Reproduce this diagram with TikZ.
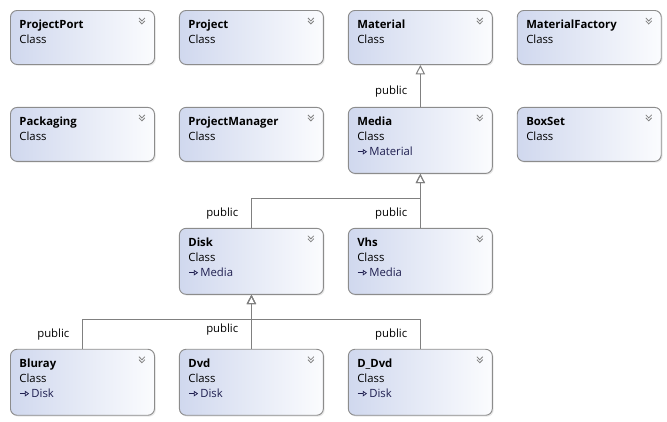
\documentclass[tikz,border=0pt]{standalone}
\usepackage{fontspec}
\setmainfont{Open Sans}
\usetikzlibrary{arrows.meta, positioning, shadows}

\definecolor{clsleft}{HTML}{D0D8EE}
\definecolor{clsright}{HTML}{FBFCFE}
\definecolor{clsborder}{HTML}{8C8C8C}
\definecolor{linkgray}{HTML}{808080}
\definecolor{basetext}{HTML}{1F1F50}

\newcommand{\inharrow}{\tikz[baseline=-0.6ex]\draw[line width=0.55pt, -{Triangle[open, length=3.2pt, width=4.2pt]}] (0,0) -- (7pt,0);}
\newcommand{\clsshort}[1]{\rule{0pt}{13.5pt}\textbf{#1}\\Class\rule[-15.75pt]{0pt}{15.75pt}}
\newcommand{\clsbase}[2]{\rule{0pt}{13.5pt}\textbf{#1}\\Class\\{\color{basetext}\inharrow\,#2}\rule[-13.5pt]{0pt}{13.5pt}}

\tikzset{
    chevron/.style={draw=black!50, line width=0.6pt, sharp corners},
    cls/.style={
        draw=clsborder,
        line width=0.7pt,
        rounded corners=5pt,
        left color=clsleft,
        right color=clsright,
        drop shadow={shadow xshift=1pt, shadow yshift=-1pt, opacity=0.18},
        minimum width=108pt,
        text width=94.5pt,
        inner xsep=6.75pt,
        inner ysep=0pt,
        align=left,
        font=\fontsize{8.5pt}{11.25pt}\selectfont,
        path picture={
            \foreach \dy in {-5.6pt,-7.8pt}
                \draw[chevron] ([shift={(-11.6pt,\dy)}]path picture bounding box.north east)
                    -- ++(2.2pt,-2.3pt) -- ++(2.2pt,2.3pt);
        }
    },
    inh/.style={draw=linkgray, line width=0.75pt, -{Triangle[open, length=7pt, width=7pt]}},
    pub/.style={left=9.5pt, inner sep=0pt, font=\fontsize{8.5pt}{11.25pt}\selectfont}
}

\begin{document}
\begin{tikzpicture}[node distance=31.5pt and 18pt]

\useasboundingbox (0,0) rectangle (500.25pt,-315.75pt);

\node[cls, anchor=north west] (pport) at (7.5pt,-7.5pt) {\clsshort{ProjectPort}};
\node[cls, right=of pport] (project) {\clsshort{Project}};
\node[cls, right=of project] (material) {\clsshort{Material}};
\node[cls, right=of material] (mfactory) {\clsshort{MaterialFactory}};

\node[cls, below=of pport] (packaging) {\clsshort{Packaging}};
\node[cls, below=of project] (pmanager) {\clsshort{ProjectManager}};
\node[cls, below=of material] (media) {\clsbase{Media}{Material}};
\node[cls, below=of mfactory] (boxset) {\clsshort{BoxSet}};

\node[cls, below=40.5pt of media] (vhs) {\clsbase{Vhs}{Media}};
\node[cls, left=of vhs] (disk) {\clsbase{Disk}{Media}};

\node[cls, below=40.5pt of disk] (dvd) {\clsbase{Dvd}{Disk}};
\node[cls, left=of dvd] (bluray) {\clsbase{Bluray}{Disk}};
\node[cls, right=of dvd] (ddvd) {\clsbase{D\_Dvd}{Disk}};

\coordinate[below=18.75pt of media.south] (mfork);
\coordinate[below=18.75pt of disk.south] (dfork);

\draw[inh] (media) -- node[pub, pos=0.36] {public} (material);
\draw[inh] (disk.north) |- node[pub, pos=0.25] {public} (mfork) -- (media.south);
\draw[inh] (vhs) -- node[pub, pos=0.27] {public} (media);
\draw[inh] (bluray.north) |- node[pub, pos=0.25] {public} (dfork) -- (disk.south);
\draw[inh] (dvd) -- node[pub, pos=0.35] {public} (disk);
\draw[inh] (ddvd.north) |- node[pub, pos=0.25] {public} (dfork) -- (disk.south);

\end{tikzpicture}
\end{document}
